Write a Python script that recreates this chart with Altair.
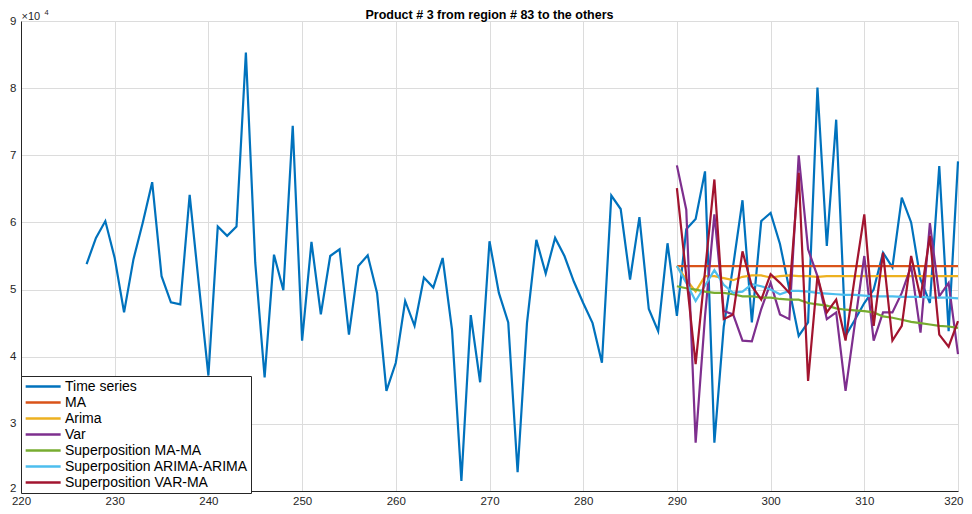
import altair as alt
import pandas as pd

title_text = "Product # 3 from region # 83 to the others"
series_names = ["Time series", "MA", "Arima", "Var", "Superposition MA-MA",
                "Superposition ARIMA-ARIMA", "Superposition VAR-MA"]
colors = ["#0072BD", "#D95319", "#EDB120", "#7E2F8E", "#77AC30", "#4DBEEE", "#A2142F"]
x_ticks = list(range(220, 321, 10))
y_ticks = [20000, 30000, 40000, 50000, 60000, 70000, 80000, 90000]

x_ts = list(range(227, 321))
time_series = [53800, 57700, 60200, 54700, 46600, 54500, 60000, 66000, 52000, 48100,
               47800, 64100, 50500, 37200, 59400, 58000, 59400, 85300, 54000, 36900,
               55200, 49900, 74400, 42400, 57100, 46300, 55000, 56000, 43300, 53500,
               55100, 49500, 34900, 39100, 48300, 44600, 51800, 50300, 54700, 44000,
               21500, 46200, 36200, 57200, 49500, 45100, 22800, 45000, 57400, 52400,
               57700, 55000, 51200, 48000, 45000, 39100, 64000, 62000, 51500, 60800,
               47100, 43800, 56900, 46100, 59000, 60500, 67600, 27200, 44500, 53500,
               63300, 45100, 60200, 61400, 56800, 50000, 43100, 45100, 80100, 56500,
               75300, 43100, 45500, 48000, 50000, 55500, 53300, 63700, 60000, 51500,
               48000, 68400, 43800, 69100]

x_fc = list(range(290, 321))
ma = [53500] * 31
arima = [53500, 51500, 49700, 52000, 52000, 51700, 51400, 51900, 52100, 52100,
         51800, 52000, 52100, 52000, 52000, 51900, 52000, 52000, 52000, 52000,
         52000, 52000, 52000, 52000, 52000, 52000, 52000, 52000, 52000, 52000, 52000]
var = [68500, 61900, 27200, 46000, 61200, 46800, 46300, 42400, 42300, 47100,
       51000, 46300, 45600, 70000, 56000, 52000, 45600, 46600, 34900, 45000,
       55000, 42400, 46600, 46600, 49500, 53500, 43600, 59900, 49000, 51000, 40400]
ma_ma = [50500, 50200, 50000, 49700, 49500, 49500, 49300, 49000, 49000, 48800,
         48800, 48600, 48500, 48500, 48000, 47800, 47600, 47200, 47000, 46900,
         46800, 46600, 46000, 45800, 45500, 45200, 45000, 44800, 44600, 44500, 44300]
arima_arima = [53500, 51000, 48300, 50600, 52900, 50700, 49500, 49700, 50800, 50500,
               50000, 49300, 49800, 49800, 49700, 49500, 49400, 49300, 49200, 49200,
               49100, 49000, 49000, 49000, 48900, 48900, 48900, 48800, 48800, 48800, 48700]
var_ma = [65100, 52000, 38900, 52700, 66400, 45600, 46300, 55700, 50500, 48500,
          52300, 51000, 49500, 67400, 36400, 52000, 46600, 48500, 42400, 52000,
          61200, 44600, 55500, 42400, 44600, 55000, 48800, 58000, 43300, 41500, 45300]

rows = []
for xv, yv in zip(x_ts, time_series):
    rows.append({"series": series_names[0], "x": xv, "y": yv})
for name, vals in zip(series_names[1:], [ma, arima, var, ma_ma, arima_arima, var_ma]):
    for xv, yv in zip(x_fc, vals):
        rows.append({"series": name, "x": xv, "y": yv})
df = pd.DataFrame(rows)

FONT = "Liberation Sans"
color_scale = alt.Scale(domain=series_names, range=colors)
legend = alt.Legend(
    title=None, orient="none", legendX=0, legendY=355,
    padding=3, symbolType="M-1,0H5", symbolSize=136, symbolStrokeWidth=2.5,
    labelFont=FONT, labelFontSize=14, labelColor="#000000", labelOffset=26,
    labelLimit=400, rowPadding=1, fillColor="#FFFFFF", strokeColor="#262626",
    symbolOpacity=1,
)
x_enc = alt.X("x:Q", scale=alt.Scale(domain=[220, 320], nice=False, zero=False),
              axis=alt.Axis(values=x_ticks, title=None, format="d",
                            labelAlign={"condition": {"test": "datum.value == 320", "value": "right"},
                                        "value": "center"},
                            labelOffset={"condition": {"test": "datum.value == 320", "value": 5},
                                         "value": 0}))
y_enc = alt.Y("y:Q", scale=alt.Scale(domain=[20000, 90000], nice=False, zero=False),
              axis=alt.Axis(values=y_ticks, title=None, labelExpr="datum.value / 10000",
                            labelOffset={"condition": {"test": "datum.value == 20000", "value": -2.5},
                                         "value": 0}))

layers = []
for name in series_names:
    layers.append(
        alt.Chart(df).transform_filter(alt.datum.series == name)
        .mark_line(strokeWidth=2.2)
        .encode(x=x_enc, y=y_enc,
                color=alt.Color("series:N", scale=color_scale, legend=legend))
    )

title_layer = alt.Chart(pd.DataFrame({"t": [title_text]})).mark_text(
    font=FONT, fontSize=12.5, fontWeight="bold", align="center", baseline="alphabetic",
    color="#000000").encode(text="t:N", x=alt.value(468.5), y=alt.value(-2.5))
exp_layer = alt.Chart(pd.DataFrame({"t": ["\u00d710"]})).mark_text(
    font=FONT, fontSize=11, align="left", baseline="alphabetic",
    color="#262626").encode(text="t:N", x=alt.value(0.5), y=alt.value(-1.5))
exp4_layer = alt.Chart(pd.DataFrame({"t": ["4"]})).mark_text(
    font=FONT, fontSize=7.5, align="left", baseline="alphabetic",
    color="#262626").encode(text="t:N", x=alt.value(23.5), y=alt.value(-6.5))

chart = alt.layer(*layers, title_layer, exp_layer, exp4_layer).properties(
    width=937, height=470,
    padding={"left": 13, "top": 13, "right": 6, "bottom": 15},
    autosize=alt.AutoSizeParams(type="none"),
).configure_view(stroke=None).configure_axis(
    labelFont=FONT, labelFontSize=11.5, labelColor="#262626",
    ticks=False, domainColor="#262626", domainWidth=1,
    gridColor="#DCDCDC", gridWidth=1,
).configure_axisX(labelPadding=4.5).configure_axisY(labelPadding=5)

chart.save("out.html", embed_options={"renderer": "svg", "actions": False})
